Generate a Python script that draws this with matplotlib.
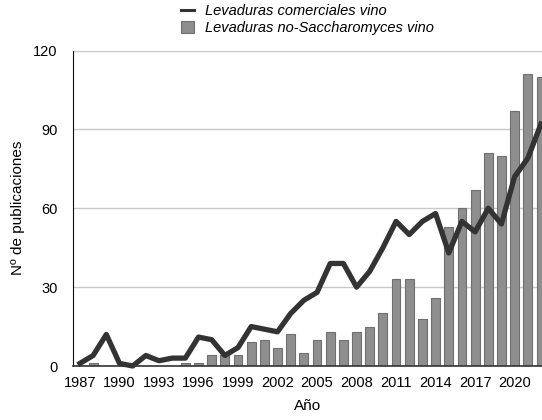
import matplotlib.pyplot as plt
from matplotlib.patches import Patch
from matplotlib.lines import Line2D

plt.rcParams['font.family'] = ['Liberation Sans', 'DejaVu Sans']

years = list(range(1987, 2023))

# Levaduras comerciales vino (line)
comerciales = [1, 4, 12, 1, 0, 4, 2, 3, 3, 11, 10, 4, 7, 15, 14, 13, 20, 25,
               28, 39, 39, 30, 36, 45, 55, 50, 55, 58, 43, 55, 51, 60, 54, 72,
               79, 92]

# Levaduras no-Saccharomyces vino (bars)
no_sacch = [0, 1, 0, 0, 0, 0, 0, 0, 1, 1, 4, 4, 4, 9, 10, 7, 12, 5,
            10, 13, 10, 13, 15, 20, 33, 33, 18, 26, 53, 60, 67, 81, 80, 97,
            111, 110]

yticks = [0, 30, 60, 90, 120]
xticks = list(range(1987, 2023, 3))

fig = plt.figure(figsize=(5.42, 4.2), dpi=100)
ax = fig.add_axes([73/542, 54/420, 1 - 73/542, (366 - 50.5)/420])

ax.bar(years, no_sacch, width=0.67, color='#8e8e8e', edgecolor='#6f6f6f',
       linewidth=0.8, zorder=2)
ax.plot(years, comerciales, color='#333333', linewidth=3.8,
        solid_joinstyle='round', zorder=3, clip_on=False)

ax.set_xlim(1986.47, 2022.08)
ax.set_ylim(0, 120)
ax.set_yticks(yticks)
ax.set_xticks(xticks)
ax.yaxis.grid(True, color='#c8c8c8', linewidth=1)
ax.set_axisbelow(True)
ax.tick_params(axis='both', length=0, labelsize=10.5)
ax.tick_params(axis='y', pad=11)
ax.tick_params(axis='x', pad=7)

for s in ['top', 'right']:
    ax.spines[s].set_visible(False)
ax.spines['left'].set_color('#111111')
ax.spines['bottom'].set_color('#333333')
ax.spines['bottom'].set_linewidth(1.2)

ax.set_xlabel('Año', fontsize=11, labelpad=7)
ax.set_ylabel('Nº de publicaciones', fontsize=11, labelpad=6)

handles = [Line2D([0], [0], color='#333333', linewidth=2.2),
           Patch(facecolor='#8e8e8e', edgecolor='#6f6f6f', linewidth=0.8)]
labels = ['Levaduras comerciales vino', 'Levaduras no-Saccharomyces vino']
fig.legend(handles, labels, loc='upper left',
           bbox_to_anchor=(181/542, 1 - 4/420), frameon=False,
           prop={'style': 'italic', 'size': 10.5}, handlelength=0.9,
           handleheight=0.9, handletextpad=0.75, labelspacing=0.2,
           borderpad=0, borderaxespad=0)

fig.savefig('out.png', dpi=100)
